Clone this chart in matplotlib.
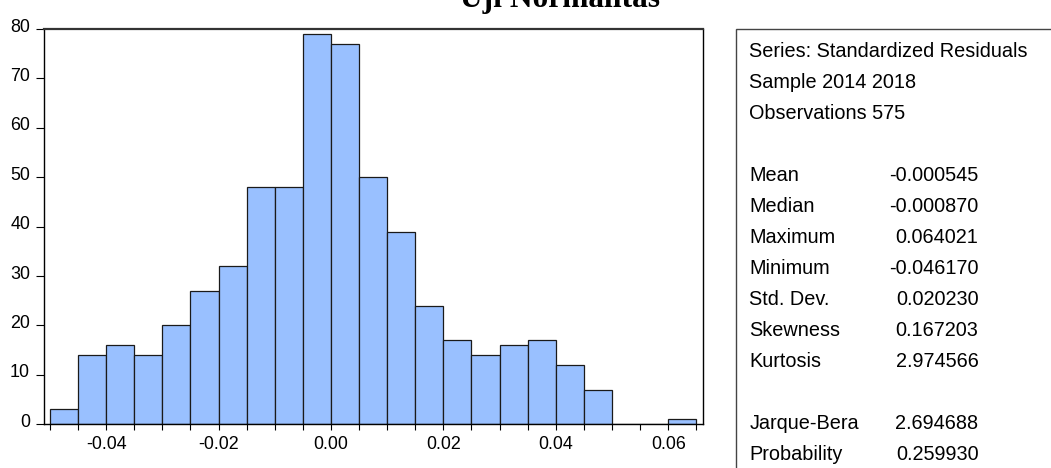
import matplotlib
matplotlib.use("Agg")
import matplotlib.pyplot as plt
import matplotlib.transforms as mtransforms
from matplotlib.patches import Rectangle

# ---- data ----
bin_left_edges = [-0.050, -0.045, -0.040, -0.035, -0.030, -0.025, -0.020, -0.015,
                  -0.010, -0.005, 0.000, 0.005, 0.010, 0.015, 0.020, 0.025,
                  0.030, 0.035, 0.040, 0.045, 0.050, 0.055, 0.060]
counts = [3, 14, 16, 14, 20, 27, 32, 48, 48, 79, 77, 50, 39, 24, 17, 14,
          16, 17, 12, 7, 0, 0, 1]
bin_width = 0.005

x_tick_positions = [-0.050, -0.045, -0.040, -0.035, -0.030, -0.025, -0.020, -0.015,
                    -0.010, -0.005, 0.000, 0.005, 0.010, 0.015, 0.020, 0.025,
                    0.030, 0.035, 0.040, 0.045, 0.050, 0.055, 0.060, 0.065]
x_tick_labels = ["", "", "-0.04", "", "", "", "-0.02", "", "", "", "0.00", "", "", "",
                 "0.02", "", "", "", "0.04", "", "", "", "0.06", ""]
y_ticks = [0, 10, 20, 30, 40, 50, 60, 70, 80]

title = "Uji Normalitas"
stat_header = ["Series: Standardized Residuals", "Sample 2014 2018", "Observations 575"]
stat_names = ["Mean", "Median", "Maximum", "Minimum", "Std. Dev.", "Skewness", "Kurtosis"]
stat_values = ["-0.000545", "-0.000870", "0.064021", "-0.046170", "0.020230", "0.167203", "2.974566"]
test_names = ["Jarque-Bera", "Probability"]
test_values = ["2.694688", "0.259930"]

# ---- figure ----
W, H = 1051, 468
fig = plt.figure(figsize=(W / 100, H / 100), dpi=100)
fig.patch.set_facecolor("white")

def fx(px):
    return px / W

def fy(py):
    return (H - py) / H

ax_l, ax_r, ax_t, ax_b = 43.7, 703.3, 29.0, 424.3
ax = fig.add_axes([fx(ax_l), fy(ax_b), fx(ax_r - ax_l), (ax_b - ax_t) / H])

ax.bar(bin_left_edges, counts, width=bin_width, align="edge",
       color="#99C0FF", edgecolor="#1a1a1a", linewidth=0.9, zorder=2)

ax.set_xlim(-0.05112, 0.06625)
ax.set_ylim(0, 80)

tick_font = dict(family="Liberation Sans", size=12.9)
ax.set_xticks(x_tick_positions)
ax.set_xticklabels(x_tick_labels, fontdict=tick_font)
ax.set_yticks(y_ticks)
ax.set_yticklabels([str(v) for v in y_ticks], fontdict=tick_font)
ax.tick_params(axis="x", direction="out", length=4.5, width=0.8, pad=4, colors="black")
ax.tick_params(axis="y", direction="out", length=5.8, width=0.8, pad=4, colors="black")

# y labels sit slightly above their tick marks, as in the reference
shift = mtransforms.ScaledTranslation(0, 4 / 100, fig.dpi_scale_trans)
for lbl in ax.get_yticklabels():
    lbl.set_transform(lbl.get_transform() + shift)

for side in ["left", "right", "bottom"]:
    ax.spines[side].set_linewidth(1.0)
    ax.spines[side].set_color("black")
ax.spines["top"].set_linewidth(1.6)
ax.spines["top"].set_color("#333333")

# title (partially clipped at top, as in the reference)
fig.text(fx(560), fy(7.5), title, ha="center", va="baseline",
         family="Liberation Serif", fontweight="bold", fontsize=22.6)

# ---- statistics box ----
box = Rectangle((fx(736.3), fy(520)), fx(400), (520 - 29.3) / H,
                transform=fig.transFigure, fill=False, edgecolor="#444444",
                linewidth=1.0, clip_on=False)
fig.patches.append(box)

stat_font = dict(family="Liberation Sans", fontsize=14.3)
label_x = fx(749.3)
value_x = fx(978.5)
line0 = 50.0
step = 31.0

def baseline(idx):
    return fy(line0 + idx * step + 7.3)

for i, s in enumerate(stat_header):
    fig.text(label_x, baseline(i), s, ha="left", va="baseline", **stat_font)
for j, (n, v) in enumerate(zip(stat_names, stat_values)):
    fig.text(label_x, baseline(4 + j), n, ha="left", va="baseline", **stat_font)
    fig.text(value_x, baseline(4 + j), v, ha="right", va="baseline", **stat_font)
for j, (n, v) in enumerate(zip(test_names, test_values)):
    fig.text(label_x, baseline(12 + j), n, ha="left", va="baseline", **stat_font)
    fig.text(value_x, baseline(12 + j), v, ha="right", va="baseline", **stat_font)

fig.savefig("out.png", dpi=100)
